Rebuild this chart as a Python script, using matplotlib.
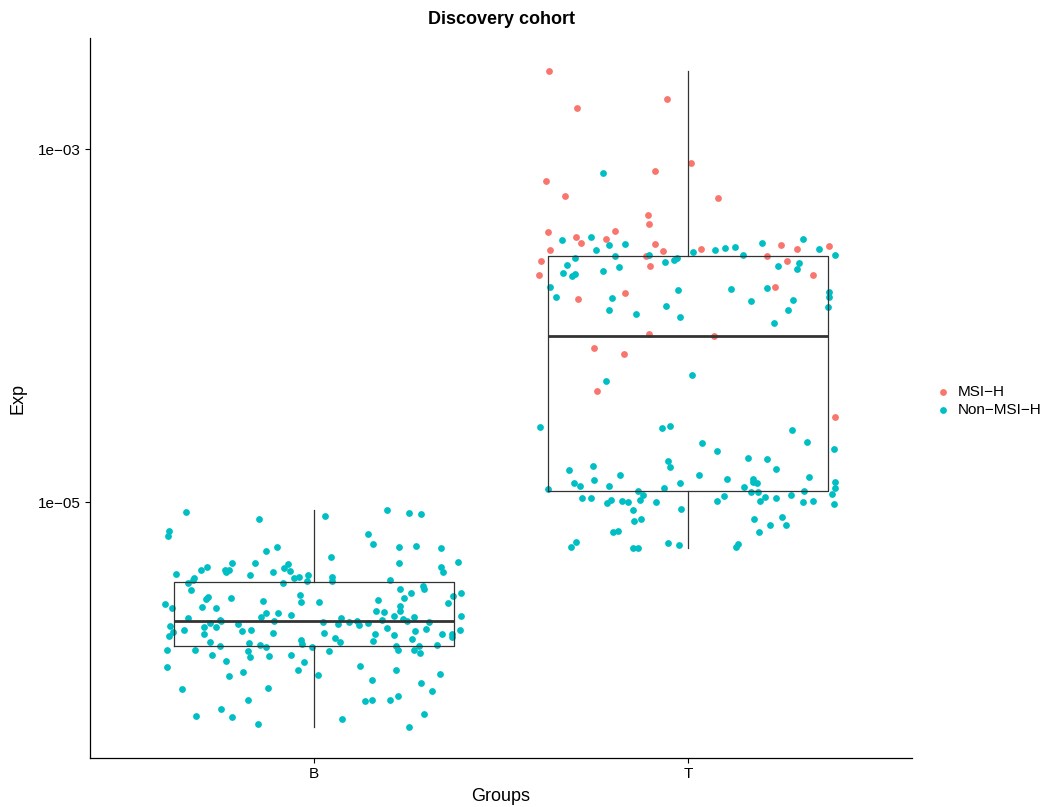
import numpy as np
import matplotlib.pyplot as plt
from matplotlib import cbook
from matplotlib.ticker import FixedLocator, FixedFormatter, NullLocator

plt.rcParams['font.family'] = ['Liberation Sans', 'DejaVu Sans']

# ==============================================================
# Data (log10 of Exp, horizontal jitter in group units)
# ==============================================================
groups = ['B', 'T']

# Group B (all Non-MSI-H)
b_jitter = [-0.343, -0.388, -0.390, -0.147, -0.100, -0.129, -0.220, -0.158, -0.287, -0.302,
            -0.239, -0.229, -0.236, -0.370, -0.173, -0.111, -0.070, -0.081, -0.065, -0.322,
            -0.325, -0.338, -0.053, -0.040, -0.017, -0.019, -0.083, -0.329, -0.038, -0.285,
            -0.290, -0.222, -0.399, -0.381, -0.300, -0.264, -0.137, -0.036, -0.130, -0.097,
            -0.142, -0.063, -0.338, -0.107, -0.251, -0.249, -0.280, -0.204, -0.385, -0.294,
            -0.263, -0.377, -0.348, -0.389, -0.294, -0.192, -0.170, -0.109, -0.278, -0.253,
            -0.175, -0.145, -0.130, -0.036, -0.032, -0.007, -0.393, -0.320, -0.177, -0.273,
            -0.173, -0.120, -0.063, -0.237, -0.027, -0.393, -0.044, -0.190, -0.228, -0.354,
            -0.123, -0.177, -0.250, -0.317, -0.220, -0.150,
            0.030, 0.195, 0.254, 0.286, 0.144, 0.158, 0.228, 0.272, 0.340, 0.045,
            0.384, 0.227, 0.340, 0.346, 0.048, 0.048, 0.203, 0.291, 0.295, 0.230,
            0.259, 0.393, 0.371, 0.240, 0.170, 0.012, 0.357, 0.230, 0.231, 0.166,
            0.187, 0.214, 0.267, 0.392, 0.072, 0.182, 0.239, 0.248, 0.024, 0.064,
            0.094, 0.115, 0.121, 0.145, 0.307, 0.195, 0.299, 0.269, 0.390, 0.025,
            0.163, 0.214, 0.343, 0.369, 0.370, 0.057, 0.069, 0.158, 0.263, 0.220,
            0.224, 0.281, 0.268, 0.282, 0.328, 0.039, 0.122, 0.219, 0.010, 0.337,
            0.154, 0.287, 0.314, 0.224, 0.202, 0.137, 0.154, 0.294, 0.075, 0.254]
b_log10 = [-5.057, -5.162, -5.191, -5.094, -5.255, -5.280, -5.344, -5.346, -5.366, -5.383,
           -5.385, -5.385, -5.397, -5.408, -5.416, -5.399, -5.349, -5.372, -5.389, -5.429,
           -5.444, -5.459, -5.431, -5.425, -5.414, -5.450, -5.459, -5.497, -5.527, -5.538,
           -5.550, -5.544, -5.578, -5.601, -5.593, -5.601, -5.561, -5.565, -5.629, -5.627,
           -5.654, -5.640, -5.655, -5.672, -5.670, -5.676, -5.688, -5.691, -5.703, -5.708,
           -5.708, -5.735, -5.725, -5.757, -5.746, -5.729, -5.727, -5.742, -5.791, -5.816,
           -5.799, -5.810, -5.822, -5.782, -5.805, -5.822, -5.837, -5.840, -5.844, -5.865,
           -5.880, -5.874, -5.865, -5.903, -5.908, -5.937, -5.954, -5.965, -5.986, -6.060,
           -6.052, -6.120, -6.173, -6.214, -6.218, -6.258,
           -5.081, -5.043, -5.062, -5.066, -5.183, -5.236, -5.253, -5.251, -5.259, -5.310,
           -5.338, -5.344, -5.368, -5.395, -5.425, -5.446, -5.444, -5.474, -5.495, -5.493,
           -5.516, -5.516, -5.533, -5.546, -5.557, -5.568, -5.574, -5.587, -5.616, -5.619,
           -5.621, -5.646, -5.652, -5.644, -5.657, -5.667, -5.665, -5.674, -5.682, -5.689,
           -5.680, -5.672, -5.695, -5.684, -5.680, -5.712, -5.721, -5.731, -5.725, -5.744,
           -5.746, -5.752, -5.746, -5.750, -5.767, -5.769, -5.793, -5.789, -5.774, -5.816,
           -5.837, -5.816, -5.837, -5.854, -5.807, -5.844, -5.927, -5.952, -5.982, -5.975,
           -6.009, -6.027, -6.069, -6.097, -6.124, -6.129, -6.124, -6.201, -6.230, -6.273]

# Group T, MSI-H samples
t_msi_jitter = [-0.372, -0.297, -0.057, 0.009, -0.089, -0.379, -0.329, 0.081, -0.106, -0.105,
                -0.374, -0.196, -0.299, -0.285, -0.218, -0.368, -0.087, -0.066, -0.393, -0.112,
                -0.399, -0.100, 0.035, 0.250, 0.291, 0.379, 0.211, 0.266, 0.336, -0.293,
                -0.169, 0.232, -0.103, 0.069, -0.251, -0.172, -0.243, 0.394]
t_msi_log10 = [-2.556, -2.768, -2.717, -3.077, -3.126, -3.183, -3.268, -3.280, -3.372, -3.425,
               -3.468, -3.463, -3.499, -3.531, -3.510, -3.570, -3.538, -3.578, -3.635, -3.605,
               -3.712, -3.663, -3.565, -3.542, -3.568, -3.548, -3.606, -3.636, -3.716, -3.850,
               -3.816, -3.782, -4.048, -4.061, -4.129, -4.162, -4.373, -4.520]

# Group T, Non-MSI-H samples
t_non_jitter = [-0.227,
                -0.338, -0.259, -0.211, -0.169, -0.245, -0.301, -0.195, -0.103, -0.324, -0.335,
                -0.310, -0.302, -0.228, -0.185, -0.061, -0.038, -0.030, 0.014, 0.073, 0.100,
                0.126, 0.147, 0.199, 0.307, 0.351, 0.394, 0.241, 0.297, 0.291, -0.370,
                -0.352, -0.203, -0.210, -0.139, -0.058, -0.027, -0.020, 0.116, 0.212, 0.170,
                0.282, 0.267, 0.230, 0.378, 0.378, 0.375, -0.220, 0.010,
                -0.395, -0.069, -0.047, 0.278, 0.320, 0.037, 0.079, 0.391, 0.161, 0.213,
                -0.053, -0.047, -0.254, -0.317, 0.236, -0.182, 0.030, 0.323, -0.252, -0.305,
                -0.288, -0.210, 0.104, 0.175, 0.174, 0.186, 0.151, -0.020, -0.064, 0.394,
                0.394, -0.373, -0.132, 0.169, 0.187, 0.311, -0.121, 0.277, 0.385, -0.284,
                -0.259, 0.098, 0.206, 0.236, -0.217, -0.205, -0.175, -0.161, -0.128, -0.085,
                0.077, 0.193, 0.308, 0.336, 0.392, -0.147, -0.018, -0.144, -0.125, 0.178,
                0.251, 0.219, 0.264, -0.201, -0.186, 0.190, -0.299, -0.313, -0.146, -0.133,
                -0.054, -0.023, 0.133, 0.128]
t_non_log10 = [-3.134,
               -3.518, -3.497, -3.546, -3.538, -3.574, -3.616, -3.608, -3.603, -3.655, -3.702,
               -3.718, -3.708, -3.691, -3.670, -3.638, -3.629, -3.618, -3.585, -3.574, -3.561,
               -3.553, -3.599, -3.534, -3.512, -3.568, -3.599, -3.663, -3.644, -3.680, -3.784,
               -3.839, -3.846, -3.912, -3.937, -3.890, -3.799, -3.954, -3.793, -3.789, -3.863,
               -3.857, -3.910, -3.984, -3.810, -3.837, -3.893, -4.313, -4.281,
               -4.577, -4.583, -4.568, -4.594, -4.660, -4.668, -4.709, -4.700, -4.749, -4.758,
               -4.768, -4.802, -4.798, -4.817, -4.815, -4.845, -4.849, -4.857, -4.875, -4.892,
               -4.907, -4.907, -4.872, -4.870, -4.889, -4.892, -4.913, -4.891, -4.919, -4.885,
               -4.921, -4.928, -4.936, -4.945, -4.945, -4.938, -4.962, -4.959, -4.957, -4.977,
               -4.975, -4.968, -4.974, -4.979, -5.006, -4.991, -4.992, -5.000, -4.991, -4.998,
               -4.994, -4.994, -5.002, -4.996, -5.013, -5.045, -5.038, -5.106, -5.098, -5.096,
               -5.087, -5.132, -5.132, -5.172, -5.164, -5.170, -5.225, -5.255, -5.259, -5.259,
               -5.232, -5.242, -5.240, -5.255]

b_exp = 10 ** np.array(b_log10)
t_msi_exp = 10 ** np.array(t_msi_log10)
t_non_exp = 10 ** np.array(t_non_log10)

COL_MSI = '#F8766D'
COL_NON = '#00BFC4'

# ==============================================================
# Figure
# ==============================================================
fig = plt.figure(figsize=(10.48, 8.07), dpi=100)
ax = fig.add_axes([90 / 1048, 49 / 807, 822 / 1048, 720 / 807])

pos = [1, 2]
ax.scatter(pos[0] + np.array(b_jitter), b_exp, s=24, c=COL_NON, linewidths=0, zorder=2)
ax.scatter(pos[1] + np.array(t_msi_jitter), t_msi_exp, s=24, c=COL_MSI, linewidths=0,
           zorder=2, label='MSI\u2212H')
ax.scatter(pos[1] + np.array(t_non_jitter), t_non_exp, s=24, c=COL_NON, linewidths=0,
           zorder=2, label='Non\u2212MSI\u2212H')

# box statistics on the log scale (as on a log10 axis), then back to Exp
stats = cbook.boxplot_stats([np.array(b_log10), np.array(t_msi_log10 + t_non_log10)], whis=1.5)
for st in stats:
    for key in ['med', 'q1', 'q3', 'whislo', 'whishi', 'mean']:
        st[key] = 10 ** st[key]
    st['fliers'] = 10 ** st['fliers']

box_line = dict(color='#333333', linewidth=0.9)
ax.bxp(stats, positions=pos, widths=0.75, showfliers=False, showcaps=False,
       boxprops=box_line, whiskerprops=box_line,
       medianprops=dict(color='#333333', linewidth=2.0), zorder=3)

ax.set_yscale('log')
ax.set_xlim(0.4, 2.6)
ax.set_ylim(10 ** -6.45, 10 ** -2.371)
ax.yaxis.set_major_locator(FixedLocator([1e-5, 1e-3]))
ax.yaxis.set_major_formatter(FixedFormatter(['1e\u221205', '1e\u221203']))
ax.yaxis.set_minor_locator(NullLocator())
ax.set_xticks(pos)
ax.set_xticklabels(groups)

for side in ['top', 'right']:
    ax.spines[side].set_visible(False)
for side in ['left', 'bottom']:
    ax.spines[side].set_linewidth(0.9)
    ax.spines[side].set_color('black')
ax.tick_params(axis='both', length=3.5, width=0.8, labelsize=11, colors='black',
               pad=3)

ax.set_xlabel('Groups', fontsize=13, labelpad=5)
ax.set_ylabel('Exp', fontsize=13, labelpad=8)
ax.set_title('Discovery cohort', fontsize=13, fontweight='bold', pad=10)

ax.legend(loc='center left', bbox_to_anchor=(937 / 1048, 1 - 401 / 807),
          bbox_transform=fig.transFigure, frameon=False, fontsize=11,
          scatterpoints=1, handlelength=0.8, handletextpad=0.55, labelspacing=0.3,
          borderpad=0, borderaxespad=0)

fig.savefig('out.png', dpi=100)
